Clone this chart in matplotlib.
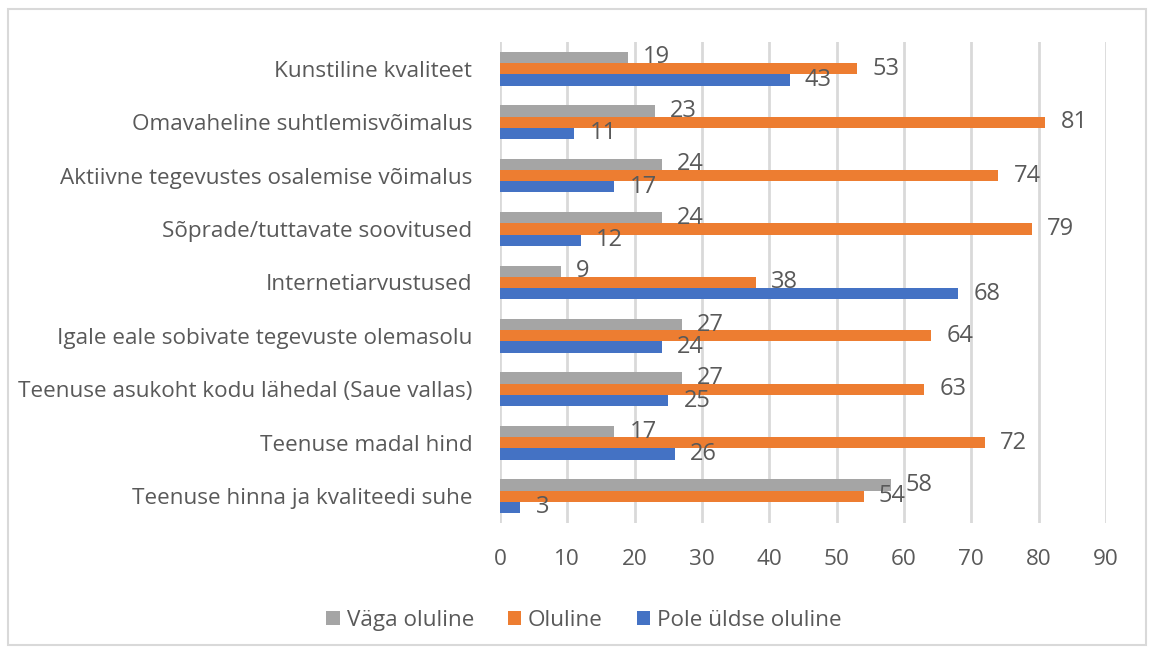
import matplotlib
matplotlib.use("Agg")
import matplotlib.pyplot as plt
from matplotlib.patches import Rectangle
import numpy as np

categories = [
    "Kunstiline kvaliteet",
    "Omavaheline suhtlemisvõimalus",
    "Aktiivne tegevustes osalemise võimalus",
    "Sõprade/tuttavate soovitused",
    "Internetiarvustused",
    "Igale eale sobivate tegevuste olemasolu",
    "Teenuse asukoht kodu lähedal (Saue vallas)",
    "Teenuse madal hind",
    "Teenuse hinna ja kvaliteedi suhe",
]
vaga_oluline = [19, 23, 24, 24, 9, 27, 27, 17, 58]
oluline = [53, 81, 74, 79, 38, 64, 63, 72, 54]
pole_oluline = [43, 11, 17, 12, 68, 24, 25, 26, 3]
series_names = ["Väga oluline", "Oluline", "Pole üldse oluline"]
x_ticks = list(range(0, 100, 10))

C_GRAY = "#A5A5A5"
C_ORANGE = "#ED7D31"
C_BLUE = "#4472C4"
TXT = "#595959"
GRID = "#D9D9D9"
FS = 16.2      # axis + legend text
FS_LBL = 17    # data labels

plt.rcParams["font.family"] = ["Open Sans", "DejaVu Sans"]

fig = plt.figure(figsize=(11.54, 6.52), dpi=100)
ax = fig.add_axes([0.4333, 0.198, 0.5251, 0.7376])

# chart border
fig.patches.append(Rectangle((8 / 1154, 7 / 652), 1138 / 1154, 636 / 652,
                             transform=fig.transFigure, fill=False,
                             edgecolor=GRID, linewidth=1.5))

y = np.arange(len(categories))
h = 0.21
data = [vaga_oluline, oluline, pole_oluline]
colors = [C_GRAY, C_ORANGE, C_BLUE]
offsets = [-h, 0, h]

for vals, col, off, name in zip(data, colors, offsets, series_names):
    bars = ax.barh(y + off, vals, height=h, color=col, label=name, zorder=3)
    for b, v in zip(bars, vals):
        ax.annotate(str(v), xy=(v, b.get_y() + b.get_height() / 2),
                    xytext=(11, 0), textcoords="offset points",
                    ha="left", va="center", fontsize=FS_LBL, color=TXT, zorder=4)

ax.set_xlim(0, 90)
ax.set_ylim(len(categories) - 0.5, -0.5)
ax.set_xticks(x_ticks)
ax.set_yticks(y)
ax.set_yticklabels(categories)
ax.tick_params(axis="x", length=0, pad=19, labelsize=FS, labelcolor=TXT)
ax.tick_params(axis="y", length=0, pad=20, labelsize=FS, labelcolor=TXT)
ax.xaxis.grid(True, color=GRID, linewidth=2)
ax.set_axisbelow(True)
for s in ("top", "right", "bottom", "left"):
    ax.spines[s].set_visible(False)

ax.legend(loc="upper center", bbox_to_anchor=(584 / 1154, 62 / 652),
          bbox_transform=fig.transFigure, ncol=3, frameon=False,
          fontsize=FS, labelcolor=TXT, handlelength=0.6, handleheight=0.6,
          handletextpad=0.3, columnspacing=1.5)

fig.savefig("out.png", dpi=100)
